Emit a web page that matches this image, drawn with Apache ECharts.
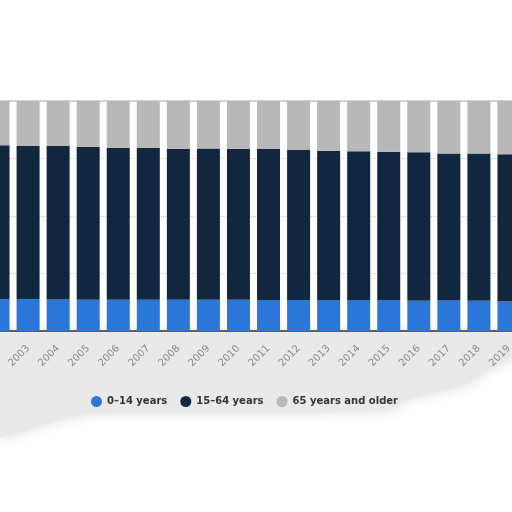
<!DOCTYPE html>
<html>
<head>
<meta charset="utf-8">
<script src="https://cdn.jsdelivr.net/npm/echarts@6/dist/echarts.min.js"></script>
<style>
  html, body { margin: 0; padding: 0; background: #fff; }
  #chart { width: 512px; height: 512px; }
</style>
</head>
<body>
<div id="chart"></div>
<script>
// years shown (2002 and 2019 are cut by the frame)
var years = ['2002','2003','2004','2005','2006','2007','2008','2009','2010',
             '2011','2012','2013','2014','2015','2016','2017','2018','2019'];
// share of total population, %
var young = [13.9,13.9,13.7,13.6,13.6,13.6,13.6,13.6,13.6,13.5,13.5,13.4,13.5,13.4,13.1,13.3,13.1,12.8];
var working = [66.9,66.6,66.7,66.4,66.1,66.1,65.6,65.8,65.6,65.6,65.3,65.0,64.6,64.5,64.6,63.9,64.1,64.0];
var old = [19.2,19.5,19.6,20.0,20.3,20.3,20.8,20.6,20.8,20.9,21.2,21.6,21.9,22.1,22.3,22.8,22.8,23.2];
var seriesNames = ['0–14 years', '15–64 years', '65 years and older'];
var colors = ['#2b76d9', '#10273f', '#b8b8b8'];

var myChart = echarts.init(document.getElementById('chart'));

function barSeries(name, data, color) {
    return {
        name: name,
        type: 'bar',
        stack: 'total',
        barWidth: 23,
        data: data,
        itemStyle: { color: color },
        emphasis: { disabled: true }
    };
}

var option = {
    animation: false,
    backgroundColor: '#fff',
    color: colors,
    graphic: [{
        type: 'polygon',
        z: -10,
        shape: {
            points: [[0,333],[512,333],[512,358],[498,362],[482,372],[470,382],
                     [440,390],[405,398],[392,409],[300,411],[200,411],[90,412],
                     [60,418],[30,428],[0,438]]
        },
        style: {
            fill: '#e9e9e9',
            shadowBlur: 14,
            shadowColor: 'rgba(0,0,0,0.18)'
        }
    }],
    grid: { left: -17, right: -12, top: 101, bottom: 181, outerBoundsMode: 'none' },
    legend: {
        data: seriesNames,
        left: 86,
        top: 391,
        icon: 'circle',
        itemWidth: 11,
        itemHeight: 11,
        itemGap: 13,
        textStyle: {
            fontFamily: 'DejaVu Sans',
            fontSize: 10,
            fontWeight: 'bold',
            color: '#333'
        }
    },
    xAxis: [{
        type: 'category',
        data: years,
        axisLine: { lineStyle: { color: '#333', width: 1.5 } },
        axisTick: { show: false },
        axisLabel: {
            rotate: 45,
            margin: 16,
            fontFamily: 'DejaVu Sans',
            fontSize: 10,
            color: '#888'
        }
    }, {
        type: 'category',
        data: years,
        position: 'top',
        axisLine: { lineStyle: { color: '#d2d2d2', width: 2 } },
        axisTick: { show: false },
        axisLabel: { show: false }
    }],
    yAxis: {
        type: 'value',
        min: 0,
        max: 100,
        interval: 25,
        axisLabel: { show: false },
        axisLine: { show: false },
        axisTick: { show: false },
        splitLine: { lineStyle: { color: '#c8c8c8', type: 'dotted' } }
    },
    series: [
        barSeries(seriesNames[0], young, colors[0]),
        barSeries(seriesNames[1], working, colors[1]),
        barSeries(seriesNames[2], old, colors[2])
    ]
};
myChart.setOption(option);
</script>
</body>
</html>
